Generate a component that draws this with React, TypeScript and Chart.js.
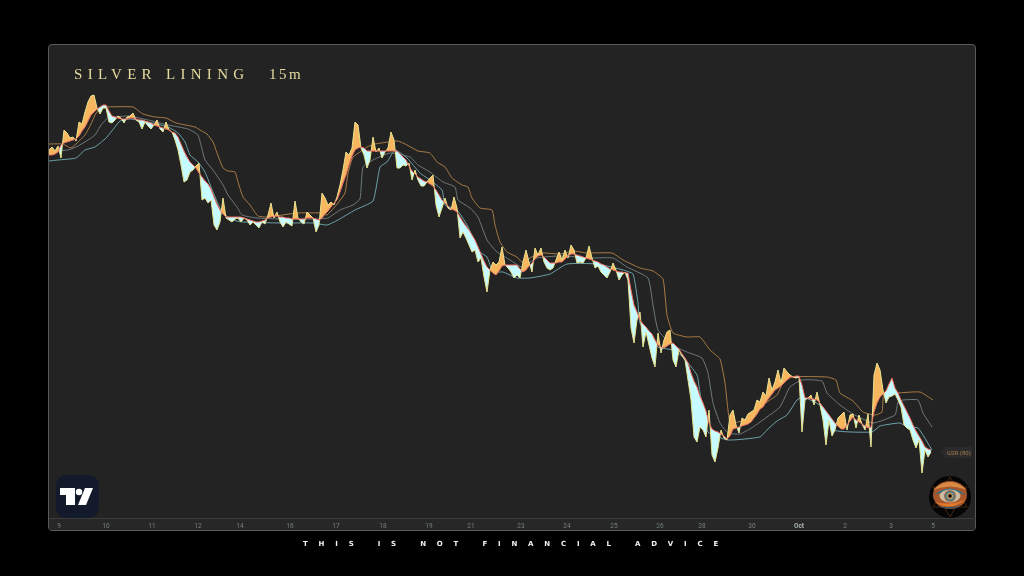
import React, { useEffect, useRef } from "react";
import { Chart, registerables } from "chart.js";

Chart.register(...registerables);

const sampleStep = 3;

const basisValues = [
  363, 363, 364, 366, 373, 375, 376, 377, 378, 379,
  382, 387, 391, 397, 403, 406, 409, 411, 413, 413,
  407, 402, 401, 400, 399, 399, 399, 400, 400, 399,
  398, 398, 397, 396, 395, 393, 392, 391, 390, 389,
  388, 386, 385, 381, 374, 367, 361, 356, 353, 350,
  345, 341, 337, 334, 329, 321, 314, 308, 304, 301,
  301, 301, 301, 301, 301, 300, 299, 298, 297, 296,
  296, 297, 298, 300, 301, 302, 302, 301, 301, 300,
  300, 299, 299, 299, 299, 299, 300, 300, 300, 299,
  298, 300, 304, 307, 311, 315, 318, 326, 335, 343,
  353, 362, 368, 370, 371, 370, 367, 367, 367, 367,
  367, 367, 367, 367, 367, 367, 367, 364, 361, 358,
  352, 347, 344, 341, 339, 337, 336, 334, 332, 328,
  323, 318, 315, 312, 309, 308, 306, 301, 296, 292,
  288, 283, 278, 271, 264, 257, 251, 248, 245, 243,
  247, 252, 253, 253, 253, 253, 253, 249, 246, 248,
  252, 255, 259, 262, 263, 261, 258, 255, 255, 255,
  256, 256, 259, 262, 264, 264, 263, 262, 261, 260,
  259, 258, 257, 256, 254, 253, 251, 249, 248, 247,
  246, 246, 245, 245, 228, 213, 206, 198, 194, 191,
  187, 184, 178, 173, 171, 170, 172, 174, 175, 172,
  169, 164, 160, 155, 145, 137, 131, 122, 115, 107,
  95, 89, 87, 86, 84, 82, 79, 82, 89, 90,
  91, 92, 93, 94, 96, 100, 104, 109, 111, 116,
  120, 124, 128, 130, 132, 135, 138, 141, 141, 142,
  142, 133, 120, 120, 119, 119, 118, 115, 111, 107,
  103, 99, 95, 92, 89, 89, 93, 97, 101, 98,
  96, 94, 92, 90, 91, 106, 115, 121, 124, 127,
  134, 140, 130, 125, 118, 112, 106, 100, 93, 87,
  82, 77, 71, 69, 68,
];

const spikeValues = [
  368, 371, 367, 372, 360, 388, 385, 380, 381, 377,
  396, 394, 406, 416, 422, 423, 410, 404, 410, 410,
  396, 395, 398, 402, 400, 395, 401, 402, 405, 398,
  396, 389, 396, 392, 389, 393, 398, 389, 386, 396,
  388, 386, 378, 368, 353, 336, 338, 346, 348, 352,
  355, 318, 320, 315, 318, 293, 288, 296, 320, 300,
  298, 296, 299, 300, 296, 300, 298, 293, 296, 293,
  290, 296, 294, 303, 315, 300, 306, 296, 291, 296,
  294, 292, 317, 300, 296, 294, 306, 303, 300, 286,
  293, 325, 320, 313, 316, 313, 321, 333, 348, 366,
  363, 370, 396, 393, 370, 363, 350, 358, 381, 366,
  370, 360, 366, 370, 386, 378, 350, 350, 353, 352,
  355, 338, 348, 338, 332, 332, 336, 340, 343, 313,
  301, 310, 320, 310, 308, 321, 310, 280, 286, 280,
  273, 266, 268, 256, 260, 241, 226, 248, 256, 253,
  256, 271, 253, 250, 246, 240, 243, 240, 256, 268,
  256, 246, 270, 263, 270, 256, 250, 248, 250, 258,
  266, 258, 268, 260, 273, 268, 255, 256, 255, 260,
  272, 260, 250, 252, 246, 243, 240, 246, 255, 248,
  238, 243, 246, 238, 190, 175, 198, 206, 171, 186,
  173, 160, 151, 185, 165, 178, 186, 188, 158, 151,
  168, 162, 158, 138, 118, 81, 76, 91, 88, 81,
  108, 63, 56, 70, 88, 80, 78, 103, 108, 93,
  85, 100, 98, 104, 106, 108, 118, 116, 126, 122,
  140, 128, 136, 148, 135, 150, 146, 143, 141, 140,
  141, 86, 118, 120, 123, 113, 126, 113, 98, 73,
  98, 82, 88, 100, 103, 106, 88, 103, 104, 90,
  103, 94, 88, 104, 71, 143, 155, 148, 128, 115,
  121, 122, 124, 118, 111, 93, 90, 88, 78, 70,
  78, 45, 68, 61, 66,
];

const slowX = [0, 14, 22, 36, 42, 46, 51, 56, 84, 94, 106, 117, 127, 146, 151, 158, 164, 168, 174, 179, 186, 189, 194, 201, 209, 219, 248, 271, 278, 289, 296, 299, 304, 311, 318, 326, 349, 358, 369, 381, 388, 396, 403, 413, 419, 423, 431, 443, 446, 451, 458, 468, 473, 491, 511, 524, 538, 563, 574, 591, 604, 614, 618, 624, 638, 651, 661, 671, 676, 681, 689, 701, 718, 728, 734, 743, 778, 787, 791, 804, 814, 826, 833, 835, 848, 871, 884];
const slowY = [374, 374, 370, 383, 394, 403, 410, 411, 411, 404, 401, 400, 395, 391, 388, 384, 376, 365, 350, 347, 346, 336, 321, 313, 302, 301, 305, 305, 303, 315, 325, 345, 361, 366, 371, 374, 377, 373, 367, 365, 356, 351, 340, 333, 331, 320, 310, 308, 293, 276, 266, 261, 256, 265, 264, 267, 265, 265, 258, 250, 247, 239, 203, 185, 181, 181, 168, 159, 135, 95, 96, 100, 116, 123, 135, 141, 141, 138, 125, 117, 106, 103, 106, 125, 125, 126, 118];

const midX = [0, 19, 29, 39, 46, 52, 59, 79, 99, 119, 139, 149, 156, 164, 174, 179, 188, 193, 208, 231, 268, 279, 291, 304, 311, 314, 324, 341, 361, 369, 381, 394, 406, 409, 421, 429, 438, 448, 461, 473, 488, 511, 544, 564, 578, 599, 604, 609, 623, 638, 653, 659, 664, 671, 679, 691, 704, 718, 731, 741, 753, 773, 778, 791, 804, 824, 846, 849, 854, 869, 874, 883];
const midY = [367, 368, 372, 378, 383, 393, 400, 402, 398, 393, 389, 383, 358, 348, 333, 323, 311, 303, 300, 299, 299, 300, 308, 313, 319, 351, 358, 365, 361, 353, 346, 336, 331, 318, 310, 301, 278, 266, 258, 251, 260, 262, 260, 260, 251, 240, 213, 188, 173, 166, 160, 145, 115, 95, 85, 84, 91, 101, 111, 131, 138, 137, 125, 113, 104, 95, 103, 116, 118, 118, 105, 91];

const fastX = [0, 9, 27, 36, 46, 57, 66, 71, 81, 99, 119, 129, 136, 141, 149, 156, 164, 173, 184, 194, 231, 264, 278, 289, 306, 324, 331, 338, 346, 358, 371, 381, 393, 396, 408, 418, 431, 438, 444, 454, 468, 481, 501, 518, 548, 574, 584, 589, 591, 609, 624, 634, 648, 651, 659, 679, 711, 718, 728, 738, 748, 754, 774, 784, 823, 831, 851, 858, 869, 883];
const fastY = [357, 358, 360, 368, 371, 380, 391, 397, 399, 396, 391, 385, 376, 363, 356, 346, 326, 306, 298, 296, 295, 295, 293, 298, 308, 317, 351, 356, 368, 360, 345, 338, 328, 313, 308, 293, 266, 261, 246, 246, 240, 240, 244, 254, 254, 248, 244, 215, 195, 171, 168, 161, 143, 125, 86, 78, 81, 88, 97, 103, 118, 121, 111, 88, 86, 92, 95, 91, 90, 68];

const tickPositions = [10, 57, 103, 149, 191, 241, 287, 334, 380, 422, 472, 518, 565, 611, 653, 703, 750, 796, 842, 884];
const tickLabels = ["9", "10", "11", "12", "14", "16", "17", "18", "19", "21", "23", "24", "25", "26", "28", "30", "Oct", "2", "3", "5"];

const toPoints = (xs: number[], ys: number[]) => ys.map((y, i) => ({ x: xs[i], y }));
const sampleX = spikeValues.map((_, i) => i * sampleStep);

function Logos() {
  return (
    <svg width={1024} height={576} style={{ position: "absolute", left: 0, top: 0, pointerEvents: "none" }}>
      <defs>
        <radialGradient id="iris" cx="50%" cy="50%" r="50%">
          <stop offset="0%" stopColor="#1b2430" />
          <stop offset="35%" stopColor="#e09a45" />
          <stop offset="70%" stopColor="#3d7f98" />
          <stop offset="100%" stopColor="#c4602a" />
        </radialGradient>
        <clipPath id="disc">
          <circle cx={950} cy={497} r={21} />
        </clipPath>
      </defs>
      <rect x={56} y={475} width={43} height={43} rx={10} fill="#131a2b" />
      <path d="M60 488H75V505H66V495H60Z" fill="#fff" />
      <circle cx={79} cy={492} r={3.2} fill="#fff" />
      <path d="M85 488H93L86 505H78Z" fill="#fff" />
      <circle cx={950} cy={497} r={21} fill="#050505" />
      <g clipPath="url(#disc)">
        <path d="M950 477L967 507H933Z M950 517L967 487H933Z" fill="none" stroke="#6e3c20" strokeWidth={0.6} />
        <ellipse cx={950} cy={495} rx={17} ry={14} fill="#a8562a" />
        <path d="M933 490Q950 474 967 490Q950 483 933 490Z" fill="#d98a45" />
        <path d="M934 495Q950 482 966 495Q950 488 934 495Z" fill="#2f7088" />
        <path d="M935 502Q950 512 965 500Q950 506 935 502Z" fill="#e07a2e" />
        <path d="M938 506Q950 512 962 505Q950 509 938 506Z" fill="#2a5468" />
        <ellipse cx={950} cy={496} rx={10.500} ry={6.500} fill="#c9bca0" />
        <circle cx={950} cy={496} r={6} fill="url(#iris)" />
        <circle cx={950} cy={496} r={1.800} fill="#0c0c0c" />
      </g>
    </svg>
  );
}

export default function App() {
  const ref = useRef<HTMLCanvasElement | null>(null);

  useEffect(() => {
    if (!ref.current) return;
    const chart = new Chart(ref.current, {
      type: "line",
      data: {
        datasets: [
          {
            label: "Basis",
            data: toPoints(sampleX, basisValues),
            borderColor: "#ef6f62",
            borderWidth: 1,
            pointRadius: 0,
            tension: 0,
            fill: false,
          },
          {
            label: "Range",
            data: toPoints(sampleX, spikeValues),
            borderColor: "#e9e38f",
            borderWidth: 1,
            pointRadius: 0,
            tension: 0,
            fill: { target: 0, above: "#f8b75e", below: "#c6fbff" },
          },
          {
            label: "GSR slow",
            data: toPoints(slowX, slowY),
            borderColor: "#a97c46",
            borderWidth: 1,
            pointRadius: 0,
            tension: 0.15,
            fill: false,
          },
          {
            label: "GSR mid",
            data: toPoints(midX, midY),
            borderColor: "#6f7a7c",
            borderWidth: 1,
            pointRadius: 0,
            tension: 0.15,
            fill: false,
          },
          {
            label: "GSR fast",
            data: toPoints(fastX, fastY),
            borderColor: "#6fa3ab",
            borderWidth: 1,
            pointRadius: 0,
            tension: 0.15,
            fill: false,
          },
        ],
      },
      options: {
        responsive: false,
        animation: false,
        parsing: true,
        layout: { padding: { left: 49, right: 49, top: 45, bottom: 46 } },
        plugins: { legend: { display: false }, tooltip: { enabled: false }, title: { display: false } },
        scales: {
          x: {
            type: "linear",
            min: 0,
            max: 926,
            grid: { display: false, drawTicks: false },
            border: { display: true, color: "#3b3b3b", width: 1 },
            afterBuildTicks: (scale: any) => {
              scale.ticks = tickPositions.map((value) => ({ value }));
            },
            afterFit: (scale: any) => {
              scale.height = 12;
            },
            ticks: {
              autoSkip: false,
              maxRotation: 0,
              padding: 4,
              font: (ctx: any) => ({
                family: "Roboto, sans-serif",
                size: 6.5,
                weight: tickLabels[ctx.index] === "Oct" ? "bold" : "normal",
              }),
              color: (ctx: any) => (tickLabels[ctx.index] === "Oct" ? "#a9b5ab" : "#748378"),
              callback: (_v: any, i: number) => tickLabels[i],
            },
          },
          y: { min: 0, max: 473, display: false },
        },
      },
    } as any);
    return () => chart.destroy();
  }, []);

  return (
    <div style={{ position: "fixed", left: 0, top: 0, width: 1024, height: 576, background: "#000", overflow: "hidden" }}>
      <div
        style={{
          position: "absolute",
          left: 48,
          top: 44,
          width: 926,
          height: 485,
          background: "#232323",
          border: "1px solid #5a5a5a",
          borderRadius: 4,
        }}
      />
      <div style={{ position: "absolute", left: 49, top: 518, width: 926, height: 12, background: "#272727", borderRadius: "0 0 3px 3px" }} />
      <canvas ref={ref} width={1024} height={576} style={{ position: "absolute", left: 0, top: 0, width: 1024, height: 576 }} />
      <div
        style={{
          position: "absolute",
          left: 74,
          top: 66,
          font: "15px 'Liberation Serif', serif",
          color: "#e7dc9f",
          letterSpacing: 5.3,
          whiteSpace: "nowrap",
        }}
      >
        SILVER LINING
      </div>
      <div
        style={{
          position: "absolute",
          left: 269,
          top: 66,
          font: "15px 'Liberation Serif', serif",
          color: "#e7dc9f",
          letterSpacing: 2.5,
          whiteSpace: "nowrap",
        }}
      >
        15m
      </div>
      <div
        style={{
          position: "absolute",
          left: 303,
          top: 540,
          font: "bold 7px 'DejaVu Sans', sans-serif",
          color: "#f2f2f2",
          letterSpacing: 10.8,
          whiteSpace: "pre",
        }}
      >
        THIS IS NOT FINANCIAL ADVICE
      </div>
      <div
        style={{
          position: "absolute",
          left: 941,
          top: 447,
          width: 31,
          height: 11,
          background: "#2b2b2b",
          clipPath: "polygon(5px 0, 100% 0, 100% 100%, 5px 100%, 0 50%)",
        }}
      />
      <div
        style={{
          position: "absolute",
          left: 947,
          top: 449,
          font: "6px Roboto, sans-serif",
          color: "#a87c4a",
          whiteSpace: "nowrap",
        }}
      >
        GSR (80)
      </div>
      <Logos />
    </div>
  );
}
